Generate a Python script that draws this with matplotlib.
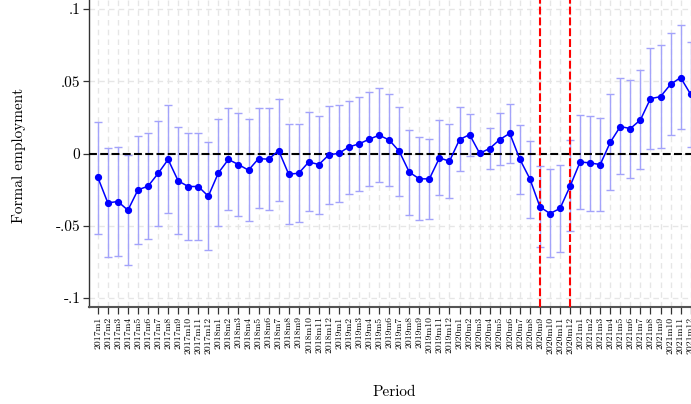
import matplotlib
matplotlib.use("Agg")
import matplotlib.pyplot as plt
import numpy as np

# Monthly periods 2017m1 .. 2021m12
years = [2017, 2018, 2019, 2020, 2021]
months = list(range(1, 13))
periods = [f"{y}m{m}" for y in years for m in months]

# Point estimates
coef = [
    -0.0164, -0.0341, -0.0332, -0.0392, -0.0251, -0.0226, -0.0138, -0.0041, -0.0189, -0.0228, -0.0228, -0.0295,
    -0.0134, -0.0041, -0.0076, -0.0115, -0.0035, -0.0039, 0.0021, -0.0143, -0.0136, -0.0058, -0.0076, -0.0009,
    0.0002, 0.0046, 0.0067, 0.0099, 0.0127, 0.0094, 0.0016, -0.0129, -0.0175, -0.0175, -0.0030, -0.0053,
    0.0097, 0.0131, 0.0002, 0.0035, 0.0097, 0.0140, -0.0039, -0.0175, -0.0369, -0.0415, -0.0380, -0.0226,
    -0.0058, -0.0065, -0.0076, 0.0078, 0.0187, 0.0173, 0.0233, 0.0380, 0.0394, 0.0479, 0.0526, 0.0410,
]

# Upper bounds of the confidence intervals
ci_high = [
    0.0219, 0.0037, 0.0046, -0.0012, 0.0122, 0.0145, 0.0226, 0.0334, 0.0182, 0.0143, 0.0143, 0.0081,
    0.0237, 0.0318, 0.0284, 0.0242, 0.0316, 0.0316, 0.0378, 0.0205, 0.0205, 0.0286, 0.0263, 0.0332,
    0.0339, 0.0367, 0.0392, 0.0424, 0.0452, 0.0413, 0.0325, 0.0164, 0.0115, 0.0101, 0.0230, 0.0205,
    0.0323, 0.0277, 0.0002, 0.0178, 0.0281, 0.0346, 0.0198, 0.0088, -0.0088, -0.0106, -0.0081, 0.0092,
    0.0265, 0.0263, 0.0247, 0.0410, 0.0521, 0.0510, 0.0576, 0.0728, 0.0754, 0.0837, 0.0887, 0.0775,
]

# Lower bounds of the confidence intervals
ci_low = [
    -0.0555, -0.0719, -0.0710, -0.0770, -0.0625, -0.0593, -0.0500, -0.0410, -0.0558, -0.0600, -0.0600, -0.0669,
    -0.0503, -0.0394, -0.0431, -0.0470, -0.0380, -0.0390, -0.0327, -0.0489, -0.0473, -0.0399, -0.0417, -0.0346,
    -0.0334, -0.0277, -0.0258, -0.0224, -0.0198, -0.0224, -0.0293, -0.0424, -0.0461, -0.0452, -0.0288, -0.0309,
    -0.0124, -0.0016, 0.0002, -0.0106, -0.0081, -0.0065, -0.0277, -0.0443, -0.0645, -0.0719, -0.0682, -0.0537,
    -0.0385, -0.0397, -0.0401, -0.0251, -0.0143, -0.0166, -0.0108, 0.0030, 0.0037, 0.0127, 0.0168, 0.0048,
]

# Periods marked with vertical reference lines
event_periods = ["2020m9", "2020m12"]

y_ticks = [-0.1, -0.05, 0, 0.05, 0.1]
y_tick_labels = ["-.1", "-.05", "0", ".05", ".1"]

plt.rcParams["font.family"] = ["cmr10", "DejaVu Serif"]
plt.rcParams["axes.unicode_minus"] = False

fig = plt.figure(figsize=(6.91, 4.04), dpi=100)
ax = fig.add_axes([0.1284, 0.2408, 0.8842, 0.7582])

x = np.arange(len(periods))
coef_a = np.array(coef)
hi = np.array(ci_high)
lo = np.array(ci_low)

ax.set_xlim(-0.9, len(periods) - 0.1)
ax.set_ylim(-0.106, 0.106)

# light dashed grid
grid_kw = dict(color="#e6e6e6", lw=1.0, dashes=(4, 3), zorder=0)
for xi in x:
    ax.axvline(xi, **grid_kw)
for yt in y_ticks:
    ax.axhline(yt, **grid_kw)

# confidence intervals
ax.errorbar(x, coef_a, yerr=[coef_a - lo, hi - coef_a], fmt="none",
            ecolor="#a3a3fa", elinewidth=1.0, capsize=2.6, capthick=1.0, zorder=2)

# zero line
ax.axhline(0, color="black", lw=1.5, dashes=(3.8, 1.6), zorder=3)

# event lines
for p in event_periods:
    ax.axvline(periods.index(p), color="#ff0000", lw=1.5, dashes=(3.8, 1.4), zorder=4)

# estimates
ax.plot(x, coef_a, color="#0000ff", lw=1.1, marker="o", markersize=4.2,
        markerfacecolor="#0000ff", markeredgecolor="#0000ff", zorder=5)

ax.set_yticks(y_ticks)
ax.set_yticklabels(y_tick_labels, fontsize=11)
ax.set_xticks(x)
ax.set_xticklabels(periods, rotation=90, fontsize=7)

ax.tick_params(axis="y", length=4, width=0.9, color="#333333", pad=2)
ax.tick_params(axis="x", length=5, width=0.9, color="#333333", pad=2)

for side in ["top", "right"]:
    ax.spines[side].set_visible(False)
ax.spines["left"].set_color("#333333")
ax.spines["left"].set_linewidth(1.0)
ax.spines["bottom"].set_color("#555555")
ax.spines["bottom"].set_linewidth(1.5)

ax.set_xlabel("Period", fontsize=11)
ax.xaxis.set_label_coords(0.5, -0.255)
ax.set_ylabel("Formal employment", fontsize=11)
ax.yaxis.set_label_coords(-0.102, 0.495)

fig.savefig("out.png", dpi=100)
